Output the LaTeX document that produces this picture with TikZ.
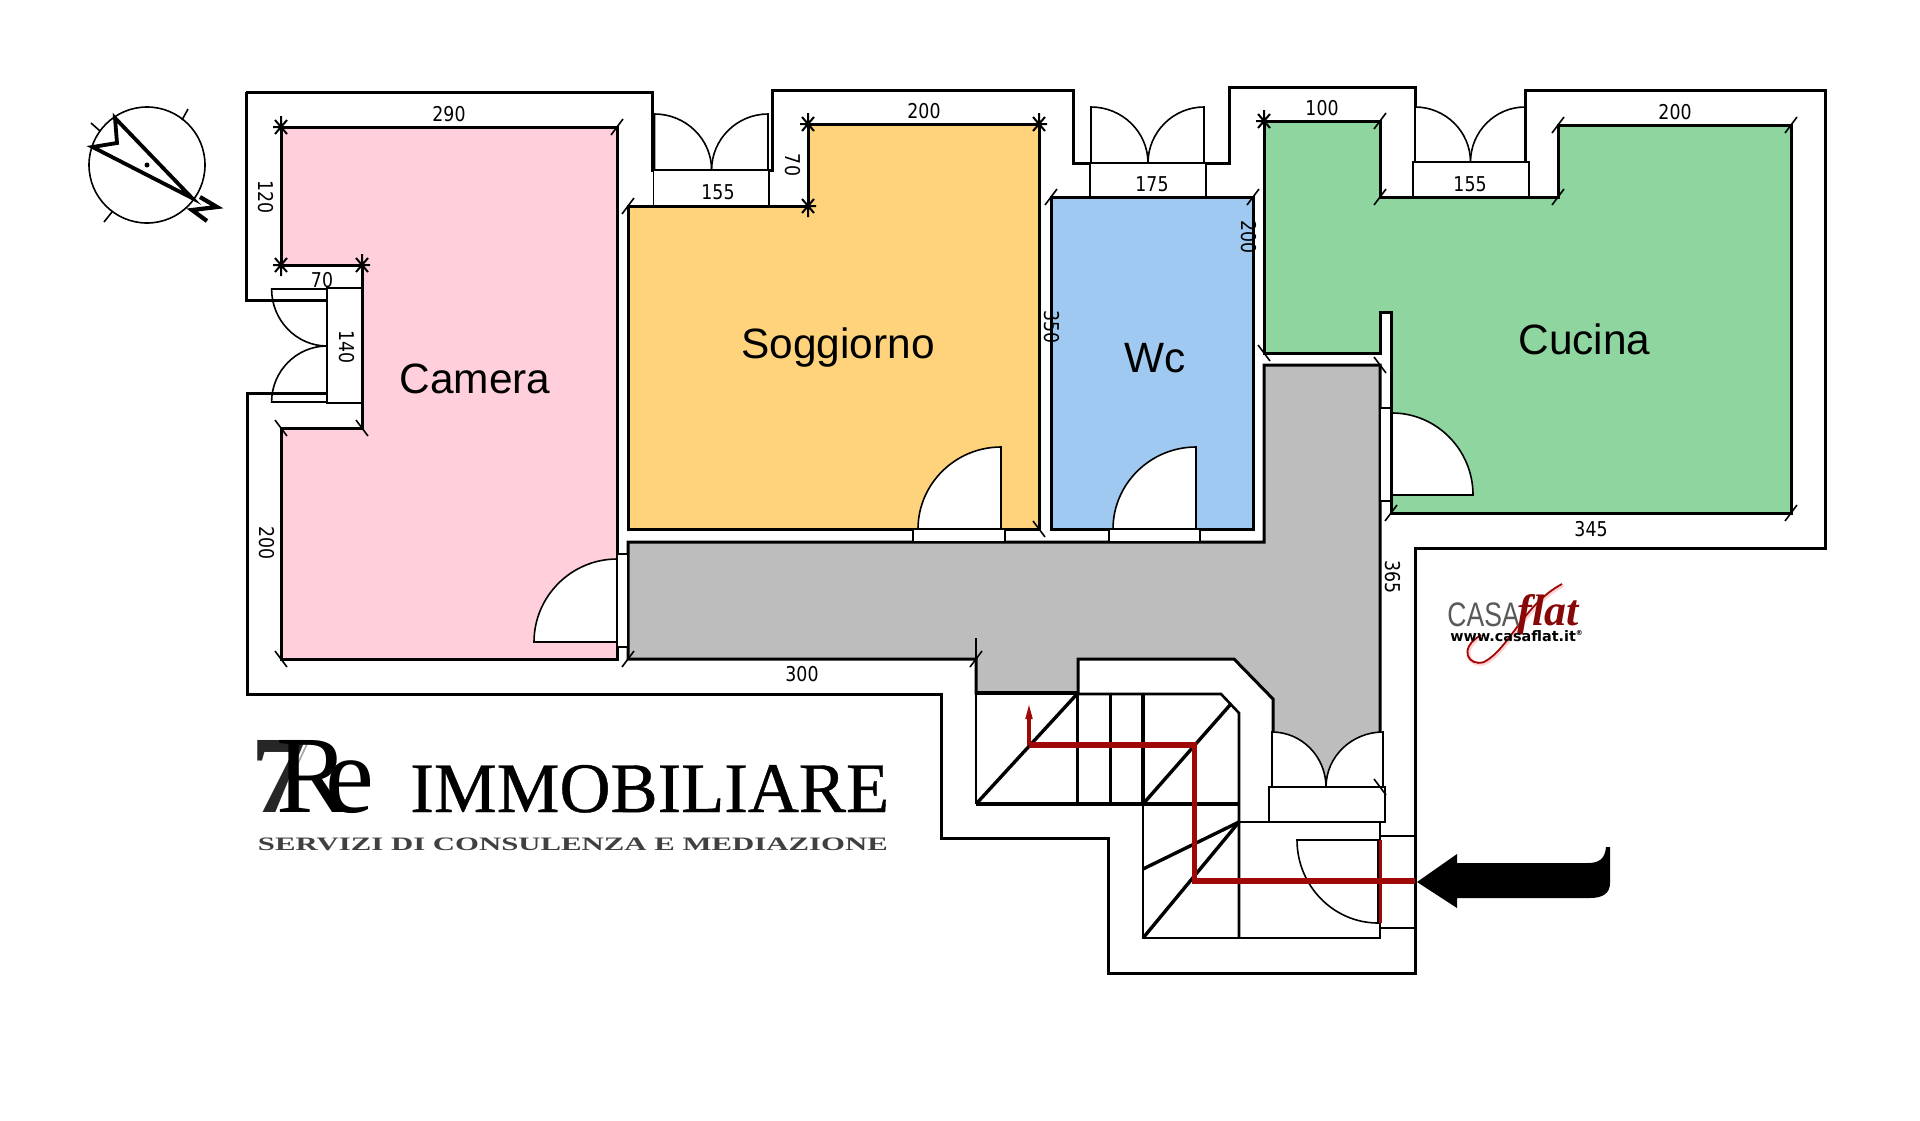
\documentclass[tikz,border=0pt]{standalone}
\usepackage{fontspec}
\setmainfont{Liberation Sans}
\newfontfamily\logoserif{Liberation Serif}
\newfontfamily\logoheavy{Liberation Serif}[FakeBold=.6]
\newfontfamily\dimfont{DejaVu Sans}[FakeStretch=0.85]
\newfontfamily\webfont{DejaVu Sans}
\usetikzlibrary{calc,arrows.meta}

\definecolor{camerapink}{HTML}{FFD0DC}
\definecolor{soggiornoyellow}{HTML}{FFD27C}
\definecolor{wcblue}{HTML}{9FC9F0}
\definecolor{cucinagreen}{HTML}{8ED5A0}
\definecolor{corridorgrey}{HTML}{BDBDBD}
\definecolor{routered}{HTML}{A00808}

\tikzset{
  wall/.style={line width=1.5pt,line join=miter},
  stair/.style={line width=1.7pt},
  stairframe/.style={line width=1.3pt},
  thinline/.style={line width=.8pt},
  sillbox/.style={thinline,fill=white},
  tickline/.style={line width=.8pt},
  roomlabel/.style={anchor=base,font=\fontsize{21.2}{24}\selectfont},
  dimlabel/.style={font=\dimfont\fontsize{10.2}{12}\selectfont,inner sep=0pt},
  route/.style={routered,line width=2.6pt}
}

% door leaf: free end, tip, tangent corner, hinge
\newcommand{\doorleaf}[4]{\filldraw[thinline,fill=white] (#1) .. controls ($(#1)!.55!(#3)$) and ($(#2)!.55!(#3)$) .. (#2) -- (#4) -- cycle;}

\begin{document}
\begin{tikzpicture}[x=.5pt,y=-.5pt]
  \useasboundingbox (0,0) rectangle (1920,1120);

  % outer walls
  \draw[wall] (246,92) -- (652,92) -- (652,170) -- (772,170) -- (772,90) -- (1073,90)
    -- (1073,163) -- (1229,163) -- (1229,87) -- (1415,87) -- (1415,162) -- (1525,162)
    -- (1525,90) -- (1825,90) -- (1825,548) -- (1415,548) -- (1415,973) -- (1108,973)
    -- (1108,838) -- (941,838) -- (941,694) -- (247,694) -- (247,393) -- (327,393);
  \draw[wall] (327,300) -- (246,300) -- (246,92);

  % rooms
  \filldraw[wall,fill=camerapink] (281,127) -- (617,127) -- (617,659) -- (281,659)
    -- (281,428) -- (362,428) -- (362,265) -- (281,265) -- cycle;
  \filldraw[wall,fill=soggiornoyellow] (628,206) -- (808,206) -- (808,124) -- (1039,124)
    -- (1039,529) -- (628,529) -- cycle;
  \filldraw[wall,fill=wcblue] (1051,197) rectangle (1253,529);
  \filldraw[wall,fill=cucinagreen] (1264,121) -- (1380,121) -- (1380,197) -- (1558,197)
    -- (1558,125) -- (1791,125) -- (1791,513) -- (1391,513) -- (1391,312) -- (1380,312)
    -- (1380,353) -- (1264,353) -- cycle;
  \filldraw[wall,fill=corridorgrey] (1264,365) -- (1380,365) -- (1380,787) -- (1273,787)
    -- (1273,699) -- (1234,659) -- (1078,659) -- (1078,693) -- (976,693) -- (976,659)
    -- (628,659) -- (628,542) -- (1264,542) -- cycle;
  \draw[tickline] (976,659) -- (976,638);

  % sills
  \draw[sillbox] (327,288) rectangle (362,403);
  \draw[sillbox] (653.5,170) rectangle (769,206);
  \draw[sillbox] (1090,163) rectangle (1206,197);
  \draw[sillbox] (1413,162) rectangle (1529,197);
  \draw[sillbox] (617,554) rectangle (628,647);
  \draw[sillbox] (913,529) rectangle (1005,542);
  \draw[sillbox] (1109,529) rectangle (1200,542);
  \draw[sillbox] (1380,408) rectangle (1391,501);
  \draw[sillbox] (1269,787) rectangle (1385,822);
  \draw[sillbox] (1380,836) rectangle (1415,928);

  % doors
  \doorleaf{271.6,289}{327,346}{271.6,346}{327,289}
  \doorleaf{271.6,402}{327,346}{271.6,346}{327,402}
  \doorleaf{654.5,114}{711.6,170}{711.6,114}{654.5,170}
  \doorleaf{768,114}{711.6,170}{711.6,114}{768,170}
  \doorleaf{1091,107}{1148,163}{1148,107}{1091,163}
  \doorleaf{1204,107}{1148,163}{1148,107}{1204,163}
  \doorleaf{1415,107}{1470.5,162}{1470.5,107}{1415,162}
  \doorleaf{1525,107}{1470.5,162}{1470.5,107}{1525,162}
  \doorleaf{534,642}{617,559}{534,559}{617,642}
  \doorleaf{918,529}{1001,447}{918,447}{1001,529}
  \doorleaf{1113,529}{1196,447}{1113,447}{1196,529}
  \doorleaf{1392,413}{1473,495}{1473,413}{1392,495}
  \doorleaf{1272,732}{1326,787}{1326,732}{1272,787}
  \doorleaf{1383,732}{1326,787}{1326,732}{1383,787}
  \doorleaf{1297,840}{1378,923}{1297,923}{1378,840}
  \draw[wall] (327,300) -- (271.6,300);
  \draw[wall] (327,393) -- (271.6,393);
  \draw[wall] (1525,107) -- (1525,162);

  % stairs
  \draw[stairframe] (1078,694) -- (1221,694) -- (1239,713) -- (1239,938);
  \draw[stairframe] (976,693) -- (976,804);
  \draw[stair] (976,804) -- (1239,804);
  \draw[wall,line width=2pt] (976,693) -- (1078,693);
  \foreach \x in {1077.5,1110.5,1143} \draw[stair] (\x,694) -- (\x,804);
  \draw[stair] (976,804) -- (1077,694);
  \draw[stair] (1143,804) -- (1230,705);
  \draw[stairframe] (1143,804) -- (1143,938) -- (1380,938) -- (1380,822) -- (1239,822);
  \draw[stair] (1143,869) -- (1239,822);
  \draw[stair] (1143,938) -- (1239,822);

  % route and entrance arrow
  \coordinate (routestart) at (1415,881);
  \coordinate (routecornerA) at (1194.6,881);
  \coordinate (routecornerB) at (1194.6,745);
  \coordinate (routecornerC) at (1029,745);
  \coordinate (routeend) at (1029,703);
  \draw[routered,line width=1.5pt] (1380,840) -- (1380,923);
  \draw[route] (routestart) -- (routecornerA) -- (routecornerB) -- (routecornerC);
  \draw[routered,line width=1.6pt,-{Triangle[length=8pt,width=3.2pt]}] (routecornerC) -- (routeend);
  \fill (1417,882) -- (1457,854) -- (1457,863) -- (1588,863) .. controls (1600,863) and (1605,858) .. (1606,847)
    -- (1610,847) -- (1610,883) .. controls (1610,893) and (1603,898) .. (1590,898) -- (1457,898) -- (1457,908) -- cycle;

  % corner marks
  \foreach \x/\y in {617/127,628/206,1051/197,1253/197,628/659,976/659,1380/121,1380/197,
      1558/197,1558/125,1791/125,1791/513,1391/513}
    \draw[tickline,shift={(\x,\y)}] (-6,8) -- (6,-8);
  \foreach \x/\y in {281/428,362/428,281/659,1039/529,1264/353,1380/365,1380/787}
    \draw[tickline,shift={(\x,\y)}] (-6,-8) -- (6,8);
  \foreach \x/\y in {281/127,281/265,362/265,808/124,808/206,1039/124,1264/121}
    \draw[tickline,line width=1pt,shift={(\x,\y)}] (-6,-7) -- (6,7) (-6,7) -- (6,-7) (0,-11) -- (0,11) (-8,0) -- (8,0);

  % compass
  \draw[thinline] (147,165) circle[radius=58];
  \draw[thinline] (91,123) -- (100,131);
  \draw[thinline] (188,109) -- (182,120);
  \draw[thinline] (104,222) -- (112,212);
  \draw[wall,line width=1.9pt] (192,198) -- (115,118) -- (117,143) -- (92.5,147) -- cycle;
  \fill (147,165) circle[radius=2.5];
  \draw[wall,line width=2.1pt] (200,197) -- (217,207) -- (192,210) -- (207,221);

  % room names
  \node[roomlabel] (camera) at (475,393) {Camera};
  \node[roomlabel] (soggiorno) at (838,358) {Soggiorno};
  \node[roomlabel] (wc) at (1155,372) {Wc};
  \node[roomlabel] (cucina) at (1584.5,354) {Cucina};

  % measures
  \node[dimlabel] (topA) at (449,114) {290};
  \node[dimlabel,rotate=-90] (leftA) at (266,197) {120};
  \node[dimlabel] (stepA) at (322,280) {70};
  \node[dimlabel,rotate=-90] (sillA) at (347,347) {140};
  \node[dimlabel,rotate=-90] (leftB) at (267,543) {200};
  \node[dimlabel] (sillB) at (718,192) {155};
  \node[dimlabel,rotate=-90] (stepB) at (793,165) {70};
  \node[dimlabel] (topB) at (924,111) {200};
  \node[dimlabel] (sillC) at (1152,184) {175};
  \node[dimlabel,rotate=-90] (wcside) at (1249,237) {200};
  \node[dimlabel,rotate=-90] (midside) at (1052,327) {350};
  \node[dimlabel] (topC) at (1322,108) {100};
  \node[dimlabel] (sillD) at (1470,184) {155};
  \node[dimlabel] (topD) at (1675,112) {200};
  \node[dimlabel] (bottomA) at (1591,529) {345};
  \node[dimlabel,rotate=-90] (rightA) at (1393,577) {365};
  \node[dimlabel] (bottomB) at (802,674) {300};

  % logo left
  \node[anchor=base west,inner sep=0pt,text=black!85,font=\logoserif\bfseries\fontsize{55}{60}\selectfont] (logoseven) at (251,812) {7};
  \draw[white!65!black,line width=.8pt] (308,742) -- (292,776);
  \node[anchor=base west,inner sep=0pt,font=\logoserif\fontsize{55}{60}\selectfont] (logore) at (276,812) {R\kern-12pt e};
  \node[anchor=base west,inner sep=0pt,font=\logoheavy\fontsize{35.5}{40}\selectfont] (logoname) at (410,812) {\scalebox{.995}[1]{IMMOBILIARE}};
  \node[anchor=base west,inner sep=0pt,text=black!75,font=\logoserif\bfseries\fontsize{9.5}{11}\selectfont] (logosub) at (257.5,850) {\scalebox{1.62}[1]{SERVIZI DI CONSULENZA E MEDIAZIONE}};

  % logo right
  \draw[red!30,line width=2pt,opacity=.6] (1563,585) .. controls (1525,605) and (1510,650) .. (1485,663) .. controls (1470,668) and (1458,650) .. (1482,636);
  \draw[routered,line width=.9pt] (1562,584) .. controls (1524,604) and (1509,649) .. (1484,662) .. controls (1469,667) and (1457,649) .. (1481,635);
  \node[anchor=base west,inner sep=0pt,text=black!65,font=\fontsize{17}{18}\selectfont] (logocasa) at (1447,626) {\scalebox{.78}[1]{CASA}};
  \node[anchor=base west,inner sep=0pt,text=routered!85!black,font=\logoserif\itshape\bfseries\fontsize{22}{24}\selectfont] (logoflat) at (1517,625) {flat};
  \node[anchor=base west,inner sep=0pt,font=\webfont\bfseries\fontsize{7.2}{9}\selectfont] (logoweb) at (1450,641) {www.casaflat.it\raisebox{3pt}{\fontsize{3.5}{4}\selectfont ®}};
\end{tikzpicture}
\end{document}
